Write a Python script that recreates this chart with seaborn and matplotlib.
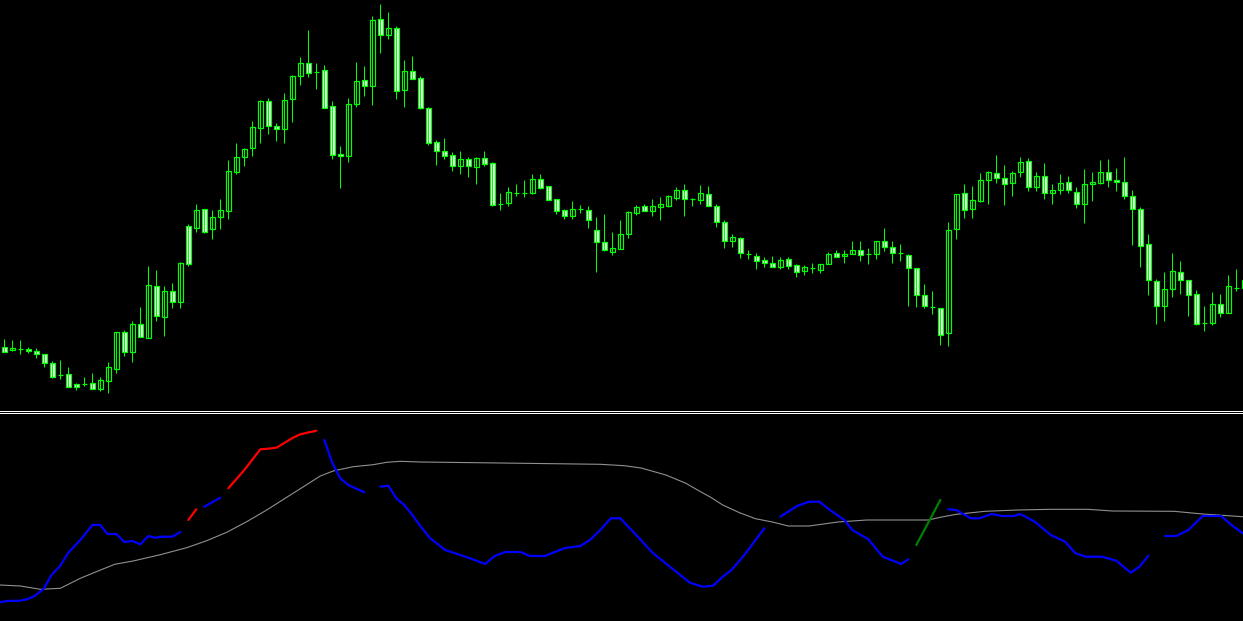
import numpy as np
import pandas as pd
import matplotlib
matplotlib.use("Agg")
import matplotlib.pyplot as plt
import seaborn as sns

# -----------------------------
# Candle data (levels read from the top of the price pane, smaller = higher price)
# -----------------------------
open_y = [
    347.3, 350.3, 348.5, 349, 351, 354, 363, 374.8, 374, 383.7,
    383.7, 383, 388.7, 380.7, 368.7, 332, 351.7, 324, 337.7, 286,
    316.7, 291, 301.7, 226, 228, 209.3, 229.3, 216.7, 210.7, 171.7,
    157.3, 148.3, 127.7, 101.3, 126, 128.7, 98.7, 76.3, 63.3, 71.7,
    70.3, 106.3, 154.3, 156.3, 104.3, 80.3, 86.3, 19.3, 35.3, 28.3,
    90.3, 71.3, 78.3, 108.3, 142.3, 151.3, 155.3, 165.7, 159.3, 166.7,
    158.3, 163.3, 203.7, 202.7, 192.7, 193.3, 193, 179.3, 186.3, 199.3,
    210.3, 215.7, 208.7, 210.3, 230.3, 242.3, 251.7, 248.7, 233.7, 212.7,
    206.3, 210.7, 206.7, 205.7, 198, 190.3, 199, 199.7, 194.3, 206.3,
    222.3, 240.7, 238.3, 253.7, 256.3, 260, 263.3, 266.7, 259.3, 265.3,
    271.3, 267.7, 269.7, 263.7, 253.3, 256.3, 254.3, 250.3, 254.3, 253.7,
    241.3, 247.3, 252.7, 255.3, 268.3, 295.3, 306.7, 308.3, 333.3, 229.3,
    193.3, 209.3, 201.3, 180.3, 173.3, 178.3, 183.3, 172.3, 161.3, 187.3,
    176.3, 193.3, 190.3, 182.3, 192.3, 204.3, 184.3, 182.7, 172.3, 180.3,
    182.3, 196.3, 209.3, 244.3, 281.3, 306.3, 289.3, 272.3, 280.3, 294.3,
    323.3, 323.3, 304.3, 313.3, 287.7, 288.3,
]
close_y = [
    351.7, 348.3, 348.5, 351.3, 354.3, 363.3, 376.7, 374.8, 386.7, 387,
    383.7, 388.7, 380, 367, 332, 351.7, 324, 336.7, 285, 315.7,
    291, 301.7, 263.3, 264.3, 210, 231.7, 217.3, 210.3, 171.3, 157.3,
    149.3, 127.3, 101, 125.7, 129.3, 100, 76, 63.3, 73.3, 71.7,
    107.7, 155.3, 156.3, 104.3, 81.3, 86.3, 20.3, 35.3, 28.3, 91.3,
    71.3, 79.3, 108.3, 142.7, 151.3, 155.7, 165.7, 159.3, 165.7, 158.3,
    163.7, 205, 203.7, 192, 192.7, 193.3, 179.3, 188, 199.7, 210.7,
    215.7, 209.3, 208.7, 219.7, 241.7, 249.7, 248.3, 234.3, 212.3, 207,
    210.7, 206.3, 204.3, 196.3, 190.3, 199.3, 199, 193.3, 206.3, 222.3,
    240.7, 237.3, 253.3, 253.7, 260.7, 263.3, 266.7, 260, 265.7, 271.7,
    267, 267.7, 264.3, 254, 256.7, 254.3, 250.3, 255.3, 254.3, 241.3,
    247.3, 253.3, 252.7, 268.3, 295.3, 306.3, 306.7, 335.3, 230.3, 194.3,
    210.3, 200.3, 180.3, 172.3, 178.3, 184.3, 173.3, 162.3, 187.3, 176.3,
    193.3, 190.3, 183.3, 190.3, 204.3, 184.3, 182.3, 172.3, 180.3, 182.3,
    196.3, 209.3, 246.3, 280.3, 306.3, 289.3, 271.3, 280.3, 295.3, 324.3,
    323.3, 304.3, 313.3, 286.3, 287.7, 280.3,
]
high_y = [
    339, 340, 340, 347, 348, 354, 361, 360, 367, 382.7,
    377, 373, 377, 362, 332, 330, 321, 307, 266, 270,
    286, 283, 262, 224, 204, 209, 210, 199, 160, 143,
    148, 121, 100, 98, 123, 93, 75, 56.7, 30, 63,
    65, 101, 146, 98, 62, 66, 16, 4, 12, 26,
    60, 56, 76, 106.7, 140, 138, 152, 151, 157.3, 157.3,
    151, 162.3, 193, 187.3, 184, 180, 174, 174, 186.3, 199.3,
    209.3, 201, 205, 206, 217, 214, 232, 220, 211, 205.3,
    204.3, 199, 197.3, 195.3, 187.3, 184, 198.3, 185, 186, 204,
    220, 234, 236.7, 250, 253, 257.3, 256, 257.3, 257.3, 264.3,
    265, 263.3, 264, 252.3, 250.3, 250.3, 241, 241, 247.7, 241,
    228, 241, 244, 254.3, 268.3, 284, 291, 307.7, 222, 193.7,
    184, 186.3, 173, 171.3, 155, 165, 171, 157.3, 158.3, 172.3,
    163.3, 184, 174, 176, 187.3, 169, 172, 160, 159, 168,
    157, 190, 207.3, 234, 279.3, 272, 253, 261, 280.3, 290,
    305.7, 292.3, 294, 275, 269, 272,
]
low_y = [
    352, 350.7, 353.7, 352.7, 357.7, 366.7, 378, 379.3, 386.7, 390,
    386, 388.7, 391, 393, 372.7, 356, 362, 336.7, 337.7, 320.7,
    336, 307.7, 307.7, 265.7, 232, 232.7, 239.3, 228.7, 218.7, 173.7,
    165.7, 155.7, 142.7, 133.7, 140.7, 142.7, 121.7, 84.7, 76.7, 88.7,
    107.7, 158.7, 187.7, 161.7, 106.7, 95.7, 104.7, 52.7, 38.7, 98.7,
    106.7, 79.3, 109, 145, 165, 159, 171, 174, 177, 184,
    165.7, 206, 210, 206, 196, 197, 194, 189, 199.7, 214,
    219, 219, 212.7, 228, 272, 250.7, 255, 248.7, 237.7, 214.7,
    210.7, 215.7, 219.7, 207, 200, 215.7, 205.7, 203.7, 206.3, 226.7,
    247.7, 246.7, 257.7, 258.7, 269, 267, 266.7, 269, 269, 276.7,
    274.7, 272.7, 272.7, 263.7, 256.7, 262.7, 254.3, 260.7, 263.7, 259,
    250.7, 262.7, 260.7, 305.7, 306.7, 307.7, 313.7, 344.7, 345.7, 238.7,
    217.7, 217.7, 202.3, 203.7, 183.3, 204.7, 195.7, 177.3, 190.7, 190.7,
    199.3, 203.7, 194.3, 193.3, 207.7, 222.7, 200.7, 184.3, 186.7, 190.7,
    199.3, 244.7, 266.7, 294.7, 323.7, 320.7, 297.3, 294.3, 315.7, 325.3,
    330.7, 325.3, 317.3, 313.3, 291.3, 290,
]

# -----------------------------
# Indicator pane (levels read from the top of the chart window)
# -----------------------------
signal_bar = [-0.54, 2, 4.5, 7, 9.5, 11.5, 13.8, 16.1, 19.5, 22.8, 25.3, 27.8, 30.3,
              32.8, 35.3, 37, 39.5, 41.1, 43.6, 46.1, 47.8, 49.5, 52, 62, 74.5, 77.5,
              79.6, 82.7, 85.2, 86.8, 88.3, 89.8, 91.9, 93.9, 96, 98, 100.6, 104.2,
              107.8, 115.5, 117, 119, 122.6, 126.7, 130.8, 135.4, 138.5, 146.2, 149.8, 154.8]
signal_val = [585, 586, 589.3, 588.3, 578.3, 571.7, 564.3, 561, 554.7, 547.7, 540.7, 532.3, 521.7,
              510, 497.3, 488.7, 476, 471, 466.7, 464.7, 462.3, 461.3, 462, 463, 464.3, 465.7,
              468, 475, 483.3, 490.7, 497.3, 505, 512.7, 518.7, 522, 526, 526, 522,
              520, 520, 517.3, 514.3, 511.3, 510, 509.3, 509.3, 511, 511.3, 514, 516.7]

# (bars, values, colour) for every drawn piece of the main indicator line
segments = [
    ([-0.54, 0.3, 2, 2.8, 3.8, 4.9, 5.9, 7, 8, 9.5, 11, 12, 12.9, 14, 15, 16, 17, 18, 18.8, 19.7, 21, 22],
     [602.3, 601, 600.7, 599.3, 596, 589, 575, 565.7, 552.7, 540, 525, 525, 534, 534, 542, 541, 544.3,
      536, 537.7, 536.7, 536.7, 532], "#0000FF"),
    ([23, 24], [520, 509.3], "#FF0000"),
    ([25, 27], [506.7, 497.7], "#0000FF"),
    ([28, 30, 32, 33, 34, 35, 36, 37, 38, 39],
     [488.3, 470, 449.3, 448.7, 447.7, 443, 438, 434.3, 432.5, 430.7], "#FF0000"),
    ([40, 41, 42, 43, 45], [440, 463, 478.3, 485, 492.3], "#0000FF"),
    ([47, 48, 49, 50, 51, 52, 53.2, 55.1, 57, 58.8, 60.1, 61.3, 62.6, 64.5, 65.7, 67.6, 68.8, 70.1,
      72, 73.2, 74.5, 75.8, 77, 79.1, 81.1, 83.2, 85.7, 87.3, 88.6, 89.8, 90.9, 92.4, 95],
     [486.7, 485.7, 498.3, 505, 515, 526, 538, 550, 555, 560, 564, 556, 552, 552, 556, 556, 552, 548,
      546, 540, 530, 518.3, 518.3, 536, 553.3, 566.7, 582.7, 586.7, 585.7, 576.7, 570, 556, 528.3], "#0000FF"),
    ([97, 99.1, 100.6, 101.9, 103.2, 105, 106, 108, 109.8, 112.1, 113],
     [516.7, 506, 501.7, 501.7, 510, 520, 530, 539.3, 556.7, 564, 559.3], "#0000FF"),
    ([114, 117], [545, 500], "#008000"),
    ([118, 119, 120.8, 121.9, 123.4, 124.7, 126.2, 127, 128.8, 130.8, 132.6, 133.9, 135.2, 137.2,
      139, 140.8, 141.9, 143],
     [509.3, 510, 518.3, 518.3, 514, 516, 516, 514, 521.7, 535, 541.7, 553.3, 556.7, 556.7,
      560.7, 572.7, 566.7, 555.7], "#0000FF"),
    ([145.1, 146.5, 148, 149.8, 152.1, 153.4, 154.8], [536, 536, 530, 516, 516, 525, 533.3], "#0000FF"),
]

# -----------------------------
# Figure
# -----------------------------
sns.set_theme(style="dark", rc={"axes.facecolor": "black", "figure.facecolor": "black"})

W, H = 1243, 621
fig = plt.figure(figsize=(W / 100, H / 100), dpi=100)
ax_p = fig.add_axes([0, (H - 410.5) / H, 1, 410.5 / H])
ax_i = fig.add_axes([0, 0, 1, 208.5 / H])

df = pd.DataFrame({"open": open_y, "high": high_y, "low": low_y, "close": close_y})
df["bar"] = np.arange(len(df))
green = "#00FF00"
px = 0.72  # one pixel in points

# wicks
ax_p.vlines(df["bar"], df["high"], df["low"], color=green, linewidth=px)
# bodies: down candles white, up candles black, dojis a flat line
top = df[["open", "close"]].min(axis=1)
height = (df["open"] - df["close"]).abs()
face = np.where(df["close"] > df["open"], "white", np.where(df["close"] < df["open"], "black", green))
ax_p.bar(df["bar"], height, bottom=top, width=0.55, color=face, edgecolor=green, linewidth=px * 1.2)

# indicator
sns.lineplot(x=signal_bar, y=signal_val, ax=ax_i, color="#909090", linewidth=0.8, estimator=None)
for bars, vals, col in segments:
    sns.lineplot(x=bars, y=vals, ax=ax_i, color=col, linewidth=1.6, estimator=None)

xlim = (-0.54, (W - 4.33) / 8)
ax_p.set_xlim(*xlim)
ax_i.set_xlim(*xlim)
ax_p.set_ylim(410.5, 0)
ax_i.set_ylim(H, 412.5)

for ax in (ax_p, ax_i):
    ax.set_xticks([])
    ax.set_yticks([])
    ax.set_xlabel("")
    ax.set_ylabel("")
    ax.grid(False)
    for s in ax.spines.values():
        s.set_visible(False)
# double separator line between the panes
ax_p.spines["bottom"].set_visible(True)
ax_p.spines["bottom"].set_color("white")
ax_p.spines["bottom"].set_linewidth(px)
ax_i.spines["top"].set_visible(True)
ax_i.spines["top"].set_color("white")
ax_i.spines["top"].set_linewidth(px)

fig.savefig("out.png", dpi=100, facecolor="black")
